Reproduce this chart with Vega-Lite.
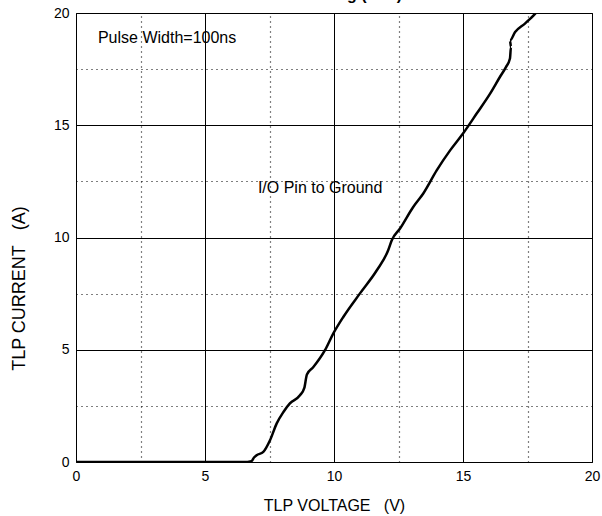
{
  "$schema": "https://vega.github.io/schema/vega-lite/v6.json",
  "width": 516,
  "height": 449,
  "autosize": {"type": "none"},
  "padding": {"left": 76, "top": 13, "right": 10, "bottom": 54},
  "background": "white",
  "config": {
    "view": {"stroke": "black", "strokeWidth": 1},
    "font": "Liberation Sans",
    "axis": {"labelFont": "Liberation Sans", "titleFont": "Liberation Sans", "labelColor": "black", "titleColor": "black", "labelFontSize": 14, "titleFontSize": 16, "titleFontWeight": "normal"}
  },
  "datasets": {
    "curve": [
      {"i": 0, "v": 0, "a": 0},
      {"i": 1, "v": 6.5, "a": 0},
      {"i": 2, "v": 6.8, "a": 0.04},
      {"i": 3, "v": 6.9, "a": 0.2},
      {"i": 4, "v": 7.0, "a": 0.3},
      {"i": 5, "v": 7.26, "a": 0.45},
      {"i": 6, "v": 7.52, "a": 0.97},
      {"i": 7, "v": 7.78, "a": 1.72},
      {"i": 8, "v": 8.04, "a": 2.23},
      {"i": 9, "v": 8.29, "a": 2.61},
      {"i": 10, "v": 8.68, "a": 2.97},
      {"i": 11, "v": 8.85, "a": 3.3},
      {"i": 12, "v": 8.95, "a": 3.9},
      {"i": 13, "v": 9.2, "a": 4.23},
      {"i": 14, "v": 9.65, "a": 4.98},
      {"i": 15, "v": 9.97, "a": 5.72},
      {"i": 16, "v": 10.36, "a": 6.46},
      {"i": 17, "v": 11.0, "a": 7.5},
      {"i": 18, "v": 11.66, "a": 8.54},
      {"i": 19, "v": 12.1, "a": 9.43},
      {"i": 20, "v": 12.24, "a": 9.88},
      {"i": 21, "v": 12.56, "a": 10.4},
      {"i": 22, "v": 13.07, "a": 11.36},
      {"i": 23, "v": 13.46, "a": 11.96},
      {"i": 24, "v": 13.98, "a": 12.99},
      {"i": 25, "v": 14.5, "a": 13.88},
      {"i": 26, "v": 15.0, "a": 14.63},
      {"i": 27, "v": 15.53, "a": 15.52},
      {"i": 28, "v": 16.05, "a": 16.41},
      {"i": 29, "v": 16.43, "a": 17.15},
      {"i": 30, "v": 16.67, "a": 17.6},
      {"i": 31, "v": 16.82, "a": 17.97},
      {"i": 32, "v": 16.86, "a": 18.49},
      {"i": 33, "v": 16.82, "a": 18.78},
      {"i": 34, "v": 17.02, "a": 19.15},
      {"i": 35, "v": 17.4, "a": 19.53},
      {"i": 36, "v": 17.8, "a": 19.97},
      {"i": 37, "v": 17.9, "a": 20.1}
    ],
    "notes": [
      {"v": 0.85, "a": 18.87, "label": "Pulse Width=100ns"},
      {"v": 7.05, "a": 12.19, "label": "I/O Pin to Ground"}
    ],
    "heading": [
      {"v": 7.83, "a": 20.56, "label": "Transmission Line Pulsing (TLP)"}
    ]
  },
  "layer": [
    {
      "data": {"name": "curve"},
      "mark": {"type": "line", "color": "black", "strokeWidth": 2.5, "clip": true, "interpolate": "monotone"},
      "encoding": {
        "x": {"field": "v", "type": "quantitative", "scale": {"domain": [0, 20], "nice": false},
          "axis": {"values": [0, 5, 10, 15, 20], "grid": true, "gridColor": "black", "gridWidth": 1, "gridOpacity": 1, "ticks": false, "domain": false, "labelPadding": 7, "title": "TLP VOLTAGE\u00a0\u00a0\u00a0(V)", "titlePadding": 14, "labelFlush": false}},
        "y": {"field": "a", "type": "quantitative", "scale": {"domain": [0, 20], "nice": false},
          "axis": {"values": [0, 5, 10, 15, 20], "grid": true, "gridColor": "black", "gridWidth": 1, "gridOpacity": 1, "ticks": false, "domain": false, "labelPadding": 7, "title": "TLP CURRENT\u00a0\u00a0\u00a0(A)", "titleFontSize": 18, "titlePadding": 25, "titleY": 275, "labelFlush": false}},
        "order": {"field": "i", "type": "quantitative"}
      }
    },
    {
      "data": {"name": "notes"},
      "mark": {"type": "text", "align": "left", "baseline": "middle", "fontSize": 16, "font": "Liberation Sans", "color": "black"},
      "encoding": {
        "x": {"field": "v", "type": "quantitative", "scale": {"domain": [0, 20], "nice": false},
          "axis": {"orient": "top", "values": [2.5, 7.5, 12.5, 17.5], "grid": true, "gridColor": "black", "gridDash": [1, 4], "gridWidth": 1.2, "gridOpacity": 1, "ticks": false, "labels": false, "domain": false, "title": null}},
        "y": {"field": "a", "type": "quantitative", "scale": {"domain": [0, 20], "nice": false},
          "axis": {"orient": "right", "values": [2.5, 7.5, 12.5, 17.5], "grid": true, "gridColor": "black", "gridDash": [1, 4], "gridWidth": 1.2, "gridOpacity": 1, "ticks": false, "labels": false, "domain": false, "title": null}},
        "text": {"field": "label", "type": "nominal"}
      }
    },
    {
      "data": {"name": "heading"},
      "mark": {"type": "text", "align": "center", "baseline": "alphabetic", "fontSize": 16, "fontWeight": "bold", "font": "Liberation Sans", "color": "black", "clip": false},
      "encoding": {
        "x": {"field": "v", "type": "quantitative", "scale": {"domain": [0, 20], "nice": false}, "axis": null},
        "y": {"field": "a", "type": "quantitative", "scale": {"domain": [0, 20], "nice": false}, "axis": null},
        "text": {"field": "label", "type": "nominal"}
      }
    }
  ],
  "resolve": {"axis": {"x": "independent", "y": "independent"}}
}
